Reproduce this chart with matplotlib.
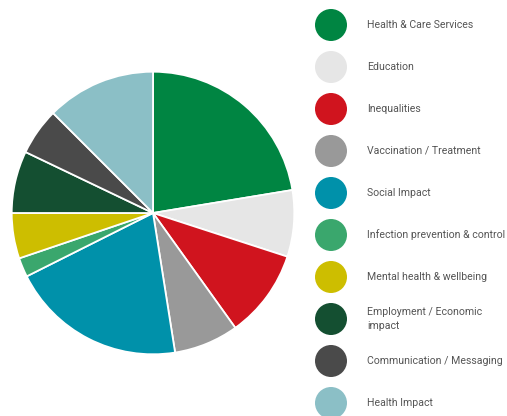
import matplotlib.pyplot as plt
from matplotlib.patches import Circle

plt.rcParams['font.family'] = ['Roboto', 'DejaVu Sans']

labels = ["Health & Care Services", "Education", "Inequalities",
          "Vaccination / Treatment", "Social Impact",
          "Infection prevention & control", "Mental health & wellbeing",
          "Employment / Economic\nimpact", "Communication / Messaging",
          "Health Impact"]
shares = [22.4, 7.6, 10.1, 7.4, 20.1, 2.2, 5.2, 7.1, 5.4, 12.5]
colors = ["#008542", "#E6E6E6", "#D0141E", "#999999", "#0091AA",
          "#3AA76D", "#CDBE00", "#144F31", "#4A4A4A", "#8BBFC6"]

W, H = 507, 416
fig = plt.figure(figsize=(W / 100, H / 100), dpi=100)

# pie, placed in pixel terms
ax = fig.add_axes([11 / W, (H - 355) / H, 284 / W, 284 / H])
ax.pie(shares, colors=colors, startangle=90, counterclock=False,
       wedgeprops=dict(edgecolor="white", linewidth=1.3))
ax.set_xlim(-1.005, 1.005)
ax.set_ylim(-1.005, 1.005)
ax.set_aspect("equal")

# legend drawn by hand
lg = fig.add_axes([0, 0, 1, 1])
lg.set_xlim(0, W)
lg.set_ylim(H, 0)
lg.axis("off")
for i, (lab, c) in enumerate(zip(labels, colors)):
    y = 25 + 42 * i
    lg.add_patch(Circle((331, y), 16, color=c, lw=0))
    lg.text(367, y, lab, fontsize=7.6, color="#555555", va="center",
            ha="left", linespacing=1.45)

fig.savefig("out.png", dpi=100)
